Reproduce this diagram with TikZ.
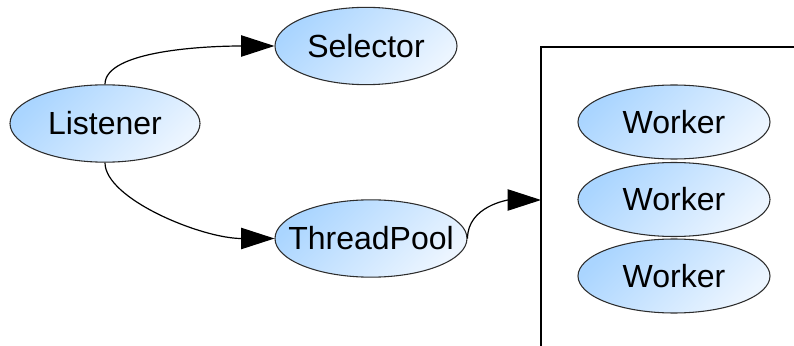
\documentclass[tikz,border=0pt]{standalone}
\usepackage{fontspec}
\setmainfont{Liberation Sans}
\usetikzlibrary{
    arrows.meta,
    positioning,
    shapes.geometric
}
\definecolor{tikzdark}{RGB}{45,45,45}
\definecolor{nodeblue}{RGB}{170,213,255}
\definecolor{nodelight}{RGB}{236,245,255}
\tikzset{
    % Node styles
    actor node/.style={
        ellipse,
        draw=tikzdark,
        line width=0.8pt,
        left color=nodeblue,
        right color=nodelight,
        shading angle=45,
        minimum width=143pt,
        minimum height=58pt,
        inner sep=0pt,
        inner xsep=-25pt,
        font=\fontsize{24}{28}\selectfont
    },
    % Arrow styles
    call arrow/.style={
        -{Triangle[length=25pt,width=16pt]},
        line width=0.9pt,
        black
    },
    pool box/.style={
        line width=1.1pt,
        black
    }
}

\begin{document}
\begin{tikzpicture}[x=0.75pt,y=-0.75pt]
        \useasboundingbox (0,0) rectangle (794,346);

        % Define nodes
        \node[actor node, minimum width=142.5pt] (listener) at (105,123.5) {Listener};
        \node[actor node, minimum width=136.5pt] (selector) at (366,46) {Selector};
        \node[actor node, minimum width=144pt] (tpool) at (371,238.5) {ThreadPool};

        % Pool container, open to the right and below
        \draw[pool box] (541,346) -- (541,47) -- (794,47);
        \coordinate (poolin) at (541,200);

        \foreach \i/\y in {1/122,2/199.5,3/276} {
            \node[actor node, minimum width=144pt, minimum height=55.5pt] (worker\i) at (674,\y) {Worker};
        }

        % Draw edges
        \draw[call arrow] (listener.north) to[out=90, in=180, out looseness=0.5] (selector.west);
        \draw[call arrow] (listener.south) to[out=-90, in=180, out looseness=0.5] (tpool.west);
        \draw[call arrow] (tpool.east) to[out=90, in=180] (poolin);
    \end{tikzpicture}
\end{document}
